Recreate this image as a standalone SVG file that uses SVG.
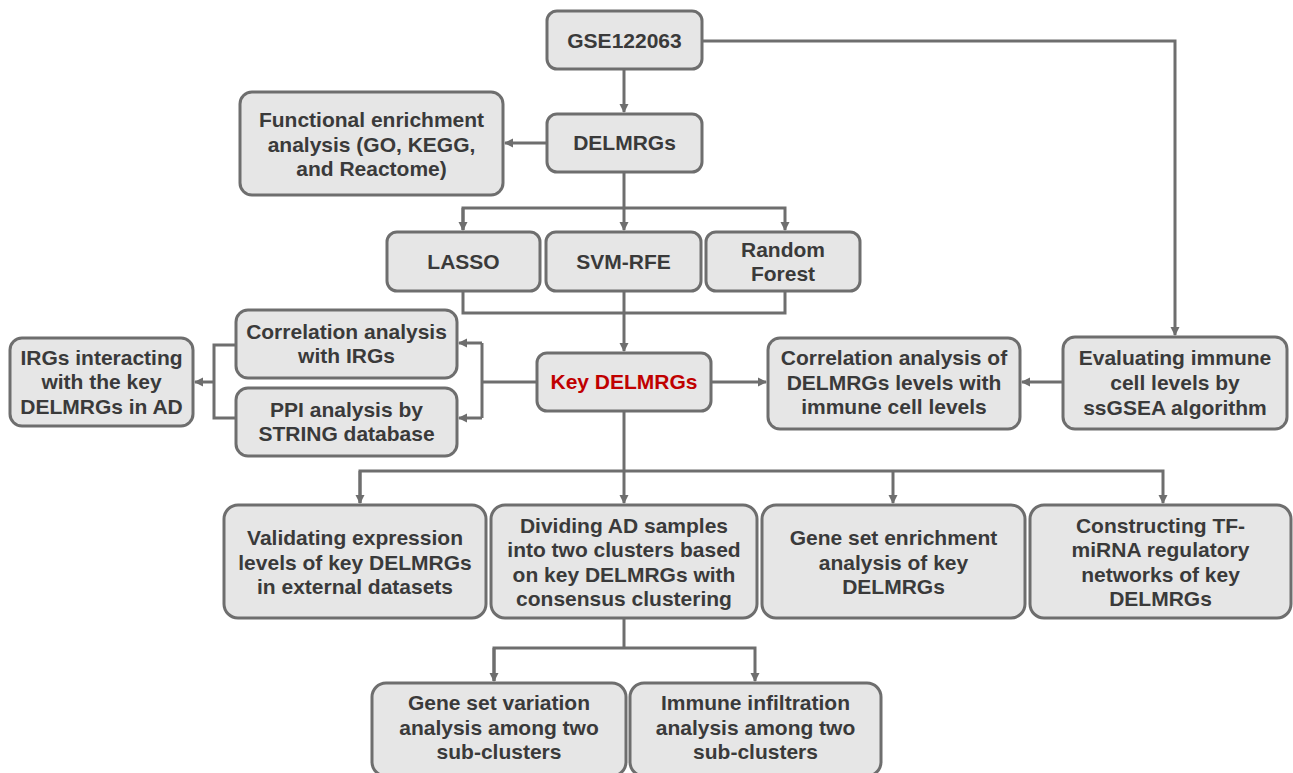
<svg xmlns="http://www.w3.org/2000/svg" width="1293" height="773" viewBox="0 0 1293 773">
<defs>
<marker id="ah" markerWidth="10" markerHeight="10" refX="8" refY="5" orient="auto" markerUnits="userSpaceOnUse">
<path d="M0,0.5 L9,5 L0,9.5 z" fill="#6e6e6e"/>
</marker>
<style>
.box{fill:#e6e6e6;stroke:#6e6e6e;stroke-width:3}
.t{font-family:"Liberation Sans",Arial,sans-serif;font-weight:bold;font-size:21px;fill:#3a3a3a;text-anchor:middle}
.red{fill:#c00000}
.c{fill:none;stroke:#6e6e6e;stroke-width:3}
</style>
</defs>
<rect width="1293" height="773" fill="#ffffff"/>
<g id="connectors">
<path class="c" d="M624,69 V112" marker-end="url(#ah)"/>
<path class="c" d="M702,41 H1175 V335" marker-end="url(#ah)"/>
<path class="c" d="M547,143 H505" marker-end="url(#ah)"/>
<path class="c" d="M624,172 V230" marker-end="url(#ah)"/>
<path class="c" d="M463,230 V208 H785 V230" marker-end="url(#ah)"/>
<path class="c" d="M463,208 V230" marker-end="url(#ah)"/>
<path class="c" d="M463,291 V313 H785 V291"/>
<path class="c" d="M624,291 V351" marker-end="url(#ah)"/>
<path class="c" d="M711,382 H766" marker-end="url(#ah)"/>
<path class="c" d="M1063,382 H1022" marker-end="url(#ah)"/>
<path class="c" d="M537,382 H482"/>
<path class="c" d="M482,343 V418"/>
<path class="c" d="M482,343 H459" marker-end="url(#ah)"/>
<path class="c" d="M482,418 H459" marker-end="url(#ah)"/>
<path class="c" d="M236,345 H214 V418 H236"/>
<path class="c" d="M214,382 H195" marker-end="url(#ah)"/>
<path class="c" d="M624,411 V503" marker-end="url(#ah)"/>
<path class="c" d="M360,503 V471 H1163 V503" marker-end="url(#ah)"/>
<path class="c" d="M360,471 V503" marker-end="url(#ah)"/>
<path class="c" d="M893,471 V503" marker-end="url(#ah)"/>
<path class="c" d="M624,618 V648"/>
<path class="c" d="M494,681 V648 H755 V681" marker-end="url(#ah)"/>
<path class="c" d="M494,648 V681" marker-end="url(#ah)"/>
</g>
<g id="n-gse"><rect class="box" x="547" y="11" width="155" height="58" rx="10"/><text class="t" x="624.5" y="48">GSE122063</text></g>
<g id="n-delmrgs"><rect class="box" x="547" y="114" width="155" height="58" rx="10"/><text class="t" x="624.5" y="150">DELMRGs</text></g>
<g id="n-func"><rect class="box" x="240" y="92" width="263" height="103" rx="12"/><text class="t" x="371.5" y="127">Functional enrichment</text><text class="t" x="371.5" y="152">analysis (GO, KEGG,</text><text class="t" x="371.5" y="176">and Reactome)</text></g>
<g id="n-lasso"><rect class="box" x="387" y="232" width="153" height="59" rx="10"/><text class="t" x="463.5" y="269">LASSO</text></g>
<g id="n-svm"><rect class="box" x="546" y="232" width="155" height="59" rx="10"/><text class="t" x="623.5" y="269">SVM-RFE</text></g>
<g id="n-rf"><rect class="box" x="706" y="232" width="154" height="59" rx="10"/><text class="t" x="783" y="257">Random</text><text class="t" x="783" y="281">Forest</text></g>
<g id="n-key"><rect class="box" x="537" y="353" width="174" height="58" rx="10"/><text class="t red" x="624" y="389">Key DELMRGs</text></g>
<g id="n-corrirg"><rect class="box" x="236" y="310" width="221" height="68" rx="12"/><text class="t" x="346.5" y="339">Correlation analysis</text><text class="t" x="346.5" y="363">with IRGs</text></g>
<g id="n-ppi"><rect class="box" x="236" y="388" width="221" height="68" rx="12"/><text class="t" x="346.5" y="417">PPI analysis by</text><text class="t" x="346.5" y="441">STRING database</text></g>
<g id="n-irgs"><rect class="box" x="10" y="338" width="183" height="88" rx="12"/><text class="t" x="101.5" y="365">IRGs interacting</text><text class="t" x="101.5" y="389">with the key</text><text class="t" x="101.5" y="414">DELMRGs in AD</text></g>
<g id="n-corrimm"><rect class="box" x="768" y="338" width="252" height="91" rx="12"/><text class="t" x="894" y="365">Correlation analysis of</text><text class="t" x="894" y="390">DELMRGs levels with</text><text class="t" x="894" y="414">immune cell levels</text></g>
<g id="n-eval"><rect class="box" x="1063" y="337" width="224" height="92" rx="12"/><text class="t" x="1175" y="365">Evaluating immune</text><text class="t" x="1175" y="390">cell levels by</text><text class="t" x="1175" y="415">ssGSEA algorithm</text></g>
<g id="n-valid"><rect class="box" x="224" y="505" width="262" height="113" rx="14"/><text class="t" x="355" y="545">Validating expression</text><text class="t" x="355" y="570">levels of key DELMRGs</text><text class="t" x="355" y="594">in external datasets</text></g>
<g id="n-divide"><rect class="box" x="491" y="505" width="266" height="113" rx="14"/><text class="t" x="624" y="533">Dividing AD samples</text><text class="t" x="624" y="557">into two clusters based</text><text class="t" x="624" y="582">on key DELMRGs with</text><text class="t" x="624" y="606">consensus clustering</text></g>
<g id="n-gsea"><rect class="box" x="762" y="505" width="263" height="113" rx="14"/><text class="t" x="893.5" y="545">Gene set enrichment</text><text class="t" x="893.5" y="570">analysis of key</text><text class="t" x="893.5" y="594">DELMRGs</text></g>
<g id="n-tf"><rect class="box" x="1030" y="505" width="261" height="113" rx="14"/><text class="t" x="1160.5" y="533">Constructing TF-</text><text class="t" x="1160.5" y="557">miRNA regulatory</text><text class="t" x="1160.5" y="582">networks of key</text><text class="t" x="1160.5" y="606">DELMRGs</text></g>
<g id="n-gsva"><rect class="box" x="372" y="683" width="254" height="93" rx="14"/><text class="t" x="499" y="710">Gene set variation</text><text class="t" x="499" y="735">analysis among two</text><text class="t" x="499" y="759">sub-clusters</text></g>
<g id="n-immune"><rect class="box" x="630" y="683" width="251" height="93" rx="14"/><text class="t" x="755.5" y="710">Immune infiltration</text><text class="t" x="755.5" y="735">analysis among two</text><text class="t" x="755.5" y="759">sub-clusters</text></g>
</svg>
